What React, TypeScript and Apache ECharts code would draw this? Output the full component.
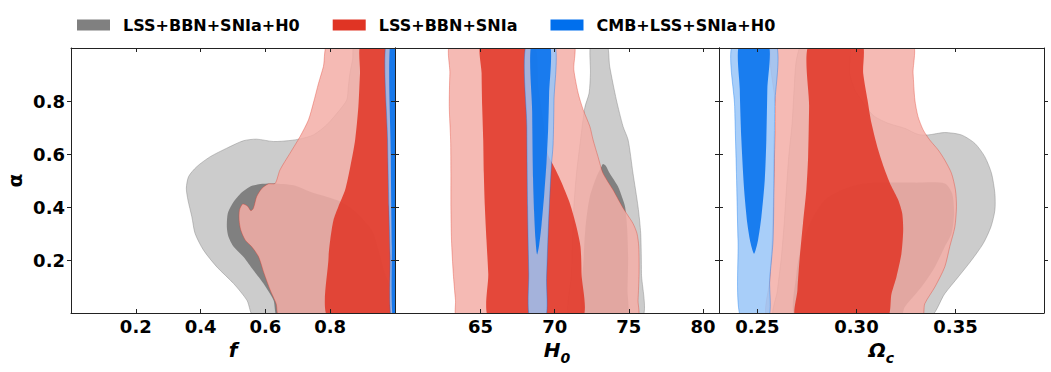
import React, { useEffect, useRef } from 'react';
import * as echarts from 'echarts';

// ---- legend / series names ----
const SET_NAMES = ['LSS+BBN+SNIa+H0', 'LSS+BBN+SNIa', 'CMB+LSS+SNIa+H0'];
const SET_COLORS = ['#808080', '#E03424', '#006FED'];

// ---- axis ticks ----
const F_TICKS = [0.2, 0.4, 0.6, 0.8];
const H0_TICKS = [65, 70, 75, 80];
const OMC_TICKS = [0.25, 0.3, 0.35];
const ALPHA_TICKS = [0.2, 0.4, 0.6, 0.8];
const F_RANGE = [0, 1];
const H0_RANGE = [59.23, 81.08];
const OMC_RANGE = [0.2306, 0.3947];
const ALPHA_RANGE = [0, 1];

// ---- contours, panel f vs alpha: [x, alpha] ----
const fGray2 = [[0.568,-0.02],[0.543,0.048],[0.502,0.111],[0.450,0.174],[0.409,0.237],[0.383,0.300],[0.373,0.363],[0.361,0.426],[0.356,0.471],[0.363,0.515],[0.388,0.552],[0.430,0.590],[0.481,0.622],[0.532,0.650],[0.573,0.656],[0.625,0.647],[0.676,0.651],[0.707,0.657],[0.748,0.672],[0.789,0.710],[0.825,0.760],[0.851,0.804],[0.856,0.855],[0.861,0.905],[0.869,0.956],[0.877,1.02],[1.02,1.02],[1.02,-0.02]];
const fGray1 = [[0.640,-0.02],[0.625,0.048],[0.594,0.111],[0.563,0.161],[0.532,0.212],[0.502,0.250],[0.486,0.288],[0.481,0.325],[0.484,0.376],[0.499,0.414],[0.522,0.449],[0.553,0.477],[0.584,0.487],[0.625,0.489],[0.687,0.482],[0.738,0.458],[0.820,0.426],[0.872,0.388],[0.928,0.313],[0.949,0.237],[0.969,0.149],[0.995,0.073],[1.02,-0.02]];
const fRed2 = [[0.795,1.02],[0.779,0.930],[0.764,0.867],[0.748,0.792],[0.733,0.729],[0.707,0.666],[0.676,0.603],[0.645,0.540],[0.630,0.489],[0.609,0.487],[0.589,0.470],[0.573,0.439],[0.563,0.395],[0.555,0.386],[0.545,0.403],[0.530,0.411],[0.520,0.388],[0.519,0.350],[0.524,0.313],[0.538,0.275],[0.558,0.250],[0.579,0.212],[0.596,0.149],[0.615,0.086],[0.633,0.036],[0.645,-0.02],[1.02,-0.02],[1.02,1.02]];
const fRed1 = [[0.897,1.02],[0.892,0.905],[0.887,0.779],[0.877,0.653],[0.862,0.552],[0.846,0.464],[0.825,0.401],[0.810,0.350],[0.800,0.275],[0.795,0.212],[0.795,-0.02],[1.02,-0.02],[1.02,1.02]];
const fBlue2 = [[0.972,1.02],[0.977,0.653],[0.981,0.401],[0.985,0.212],[0.988,-0.02],[1.02,-0.02],[1.02,1.02]];
const fBlue1 = [[0.985,1.02],[0.987,0.6],[0.990,0.25],[0.993,-0.02],[1.02,-0.02],[1.02,1.02]];

// ---- contours, panel H0 vs alpha ----
const hGray2 = [[71.06,-0.02],[71.13,0.149],[71.20,0.275],[71.29,0.401],[71.47,0.527],[71.74,0.653],[72.03,0.775],[72.32,0.830],[72.41,0.905],[72.46,1.02],[73.49,1.02],[73.71,0.930],[74.16,0.804],[74.61,0.704],[74.95,0.653],[75.28,0.527],[75.62,0.401],[75.80,0.300],[75.85,0.149],[75.85,-0.02]];
const hGray1 = [[71.91,-0.02],[71.96,0.212],[72.10,0.338],[72.37,0.439],[72.82,0.514],[73.15,0.552],[73.26,0.562],[73.45,0.555],[73.71,0.527],[74.27,0.477],[74.57,0.433],[74.75,0.400],[74.88,0.325],[74.95,0.212],[74.91,0.086],[74.84,-0.02]];
const hRed2 = [[63.04,1.02],[62.93,0.905],[62.89,0.779],[62.98,0.653],[63.00,0.527],[63.00,0.401],[63.04,0.275],[63.16,0.149],[63.31,0.048],[63.45,-0.02],[75.55,-0.02],[75.62,0.048],[75.69,0.149],[75.67,0.250],[75.55,0.300],[75.28,0.338],[74.84,0.376],[74.50,0.407],[73.94,0.464],[73.26,0.527],[72.92,0.590],[72.59,0.653],[72.37,0.704],[71.92,0.767],[71.58,0.830],[71.29,0.918],[71.20,1.02]];
const hRed1 = [[65.07,1.02],[65.07,0.905],[65.11,0.779],[65.18,0.653],[65.22,0.527],[65.29,0.401],[65.40,0.275],[65.52,0.149],[65.63,-0.02],[71.81,-0.02],[71.81,0.149],[71.74,0.250],[71.47,0.325],[71.02,0.414],[70.40,0.500],[69.89,0.559],[69.56,0.596],[69.25,0.720],[68.90,0.850],[68.54,1.02]];
const hBlue2 = [[68.10,1.02],[68.12,0.7],[68.17,0.4],[68.25,0.15],[68.32,-0.02],[69.38,-0.02],[69.45,0.13],[69.56,0.306],[69.67,0.445],[69.78,0.559],[69.89,0.634],[69.95,0.8],[69.97,1.02]];
const hBlue1 = [[68.44,1.02],[68.48,0.76],[68.54,0.508],[68.61,0.382],[68.70,0.281],[68.81,0.221],[68.95,0.256],[69.11,0.332],[69.29,0.445],[69.45,0.571],[69.56,0.697],[69.62,0.823],[69.67,1.02]];

// ---- contours, panel Omega_c vs alpha ----
const oGray2 = [[0.2731,1.02],[0.2697,0.956],[0.2685,0.842],[0.2675,0.716],[0.2658,0.590],[0.2646,0.464],[0.2635,0.338],[0.2621,0.212],[0.2601,0.086],[0.2587,-0.02],[0.3362,-0.02],[0.3446,0.073],[0.3514,0.136],[0.3581,0.199],[0.3640,0.262],[0.3679,0.325],[0.3699,0.388],[0.3699,0.451],[0.3682,0.527],[0.3648,0.590],[0.3598,0.640],[0.3530,0.672],[0.3446,0.681],[0.3362,0.672],[0.3311,0.674],[0.3244,0.697],[0.3160,0.716],[0.3093,0.741],[0.3059,0.767],[0.3025,0.804],[0.2992,0.842],[0.2966,0.905],[0.2958,1.02]];
const oGray1 = [[0.2697,-0.02],[0.2697,0.149],[0.2722,0.250],[0.2773,0.350],[0.2840,0.426],[0.2924,0.464],[0.3025,0.487],[0.3160,0.492],[0.3295,0.492],[0.3446,0.489],[0.3483,0.451],[0.3493,0.376],[0.3480,0.300],[0.3446,0.250],[0.3396,0.174],[0.3328,0.098],[0.3244,0.023],[0.3219,-0.02]];
const oRed2 = [[0.2587,1.02],[0.2591,0.779],[0.2584,0.527],[0.2574,0.275],[0.2562,0.124],[0.2557,-0.02],[0.3328,-0.02],[0.3345,0.035],[0.3396,0.098],[0.3446,0.174],[0.3471,0.250],[0.3497,0.325],[0.3505,0.401],[0.3500,0.464],[0.3480,0.527],[0.3446,0.577],[0.3413,0.615],[0.3370,0.653],[0.3337,0.691],[0.3311,0.741],[0.3295,0.804],[0.3286,0.905],[0.3278,1.02]];
const oRed1 = [[0.2764,1.02],[0.2761,0.779],[0.2756,0.590],[0.2747,0.464],[0.2730,0.338],[0.2714,0.212],[0.2702,0.086],[0.2697,-0.02],[0.3151,-0.02],[0.3177,0.073],[0.3202,0.136],[0.3227,0.224],[0.3236,0.313],[0.3231,0.376],[0.3211,0.426],[0.3177,0.477],[0.3143,0.540],[0.3110,0.615],[0.3076,0.716],[0.3056,0.804],[0.3034,0.905],[0.3025,1.02]];
const oBlue2 = [[0.2377,1.02],[0.2385,0.779],[0.2394,0.527],[0.2402,0.275],[0.2416,-0.02],[0.2554,-0.02],[0.2562,0.124],[0.2579,0.275],[0.2584,0.527],[0.2587,0.779],[0.2591,1.02]];
const oBlue1 = [[0.2411,1.02],[0.2411,0.842],[0.2419,0.653],[0.2433,0.464],[0.2449,0.338],[0.2466,0.262],[0.2483,0.224],[0.2503,0.275],[0.2520,0.363],[0.2537,0.502],[0.2545,0.653],[0.2550,0.842],[0.2554,1.02]];

const FONT = 'DejaVu Sans';

const STYLES = [
  [
    { fill: '#cccccc', stroke: 'rgba(128,128,128,0.55)', lineWidth: 0.8 },
    { fill: '#808080' },
  ],
  [
    { fill: 'rgba(243,174,167,0.85)', stroke: 'rgba(224,52,36,0.45)', lineWidth: 0.8 },
    { fill: 'rgba(224,52,36,0.85)' },
  ],
  [
    { fill: 'rgba(153,197,248,0.85)', stroke: 'rgba(0,111,237,0.45)', lineWidth: 0.8 },
    { fill: 'rgba(0,111,237,0.85)' },
  ],
];

const PANELS = [
  { range: F_RANGE, ticks: F_TICKS, digits: 1, sets: [[fGray2, fGray1], [fRed2, fRed1], [fBlue2, fBlue1]] },
  { range: H0_RANGE, ticks: H0_TICKS, digits: 0, sets: [[hGray2, hGray1], [hRed2, hRed1], [hBlue2, hBlue1]] },
  { range: OMC_RANGE, ticks: OMC_TICKS, digits: 2, sets: [[oGray2, oGray1], [oRed2, oRed1], [oBlue2, oBlue1]] },
];

const AXIS_NAMES = ['{m|f}', '{m|H}{s|0}', '{m|Ω}{s|c}'];

export default function App() {
  const ref = useRef<HTMLDivElement>(null);
  useEffect(() => {
    const chart = echarts.init(ref.current!, null, { renderer: 'svg' });
    const grids = [
      { left: 71, top: 48, width: 324, height: 265 },
      { left: 395, top: 48, width: 324, height: 265 },
      { left: 719, top: 48, width: 325, height: 265 },
    ];
    const lineStyle = { color: '#222', width: 1 };
    const labelBase = { fontFamily: FONT, fontWeight: 'bold', fontSize: 18, color: '#000' };
    const xAxis: any[] = [];
    const yAxis: any[] = [];
    const series: any[] = [];
    PANELS.forEach((p, i) => {
      xAxis.push({
        gridIndex: i, type: 'value', min: p.range[0], max: p.range[1], position: 'bottom', z: 5,
        axisLine: { show: true, onZero: false, lineStyle },
        axisTick: { show: true, inside: true, length: 4, customValues: p.ticks, lineStyle },
        axisLabel: { ...labelBase, margin: 4, customValues: p.ticks, formatter: (v: number) => v.toFixed(p.digits) },
        splitLine: { show: false },
        name: AXIS_NAMES[i], nameLocation: 'middle', nameGap: 27,
        nameTextStyle: {
          rich: {
            m: { fontFamily: FONT, fontWeight: 'bold', fontStyle: 'italic', fontSize: 20, color: '#000', verticalAlign: 'bottom', padding: [0, 0, 5, 0] },
            s: { fontFamily: FONT, fontWeight: 'bold', fontStyle: 'italic', fontSize: 14, color: '#000', verticalAlign: 'bottom' },
          },
        },
      });
      xAxis.push({
        gridIndex: i, type: 'value', min: p.range[0], max: p.range[1], position: 'top', z: 5,
        axisLine: { show: true, onZero: false, lineStyle },
        axisTick: { show: true, inside: true, length: 4, customValues: p.ticks, lineStyle },
        axisLabel: { show: false },
        splitLine: { show: false },
      });
      yAxis.push({
        gridIndex: i, type: 'value', min: ALPHA_RANGE[0], max: ALPHA_RANGE[1], position: 'left', z: 5,
        axisLine: { show: true, onZero: false, lineStyle },
        axisTick: { show: true, inside: false, length: 4, customValues: ALPHA_TICKS, lineStyle },
        axisLabel: { ...labelBase, show: i === 0, margin: 6, customValues: ALPHA_TICKS, formatter: (v: number) => v.toFixed(1) },
        splitLine: { show: false },
        name: i === 0 ? 'α' : '', nameLocation: 'middle', nameGap: 46, nameRotate: 90,
        nameTextStyle: { fontFamily: FONT, fontWeight: 'bold', fontSize: 20, color: '#000' },
      });
      yAxis.push({
        gridIndex: i, type: 'value', min: ALPHA_RANGE[0], max: ALPHA_RANGE[1], position: 'right', z: 5,
        axisLine: { show: true, onZero: false, lineStyle },
        axisTick: { show: true, inside: false, length: 4, customValues: ALPHA_TICKS, lineStyle },
        axisLabel: { show: false },
        splitLine: { show: false },
      });
      p.sets.forEach((polys, s) => {
        series.push({
          type: 'custom', name: SET_NAMES[s], xAxisIndex: 2 * i, yAxisIndex: 2 * i,
          clip: true, silent: true,
          itemStyle: { color: SET_COLORS[s] },
          data: polys.map((pl) => pl[0]),
          renderItem: (params: any, api: any) => {
            const pl = polys[params.dataIndex];
            return {
              type: 'polygon',
              shape: { points: pl.map((pt) => api.coord(pt)), smooth: 0.25 },
              style: { ...STYLES[s][params.dataIndex] },
            };
          },
        });
      });
    });
    chart.setOption({
      animation: false,
      backgroundColor: '#ffffff',
      legend: {
        left: 72, top: 12, icon: 'rect', itemWidth: 33, itemHeight: 11, itemGap: 33,
        selectedMode: false,
        textStyle: { fontFamily: FONT, fontWeight: 'bold', fontSize: 16, color: '#000', padding: [0, 0, 0, 8] },
        data: SET_NAMES.map((n, k) => ({ name: n, itemStyle: { color: SET_COLORS[k] } })),
      },
      grid: grids,
      xAxis, yAxis, series,
    });
    return () => chart.dispose();
  }, []);
  return <div ref={ref} style={{ position: 'fixed', left: 0, top: 0, width: 1051, height: 372, background: '#fff' }} />;
}
